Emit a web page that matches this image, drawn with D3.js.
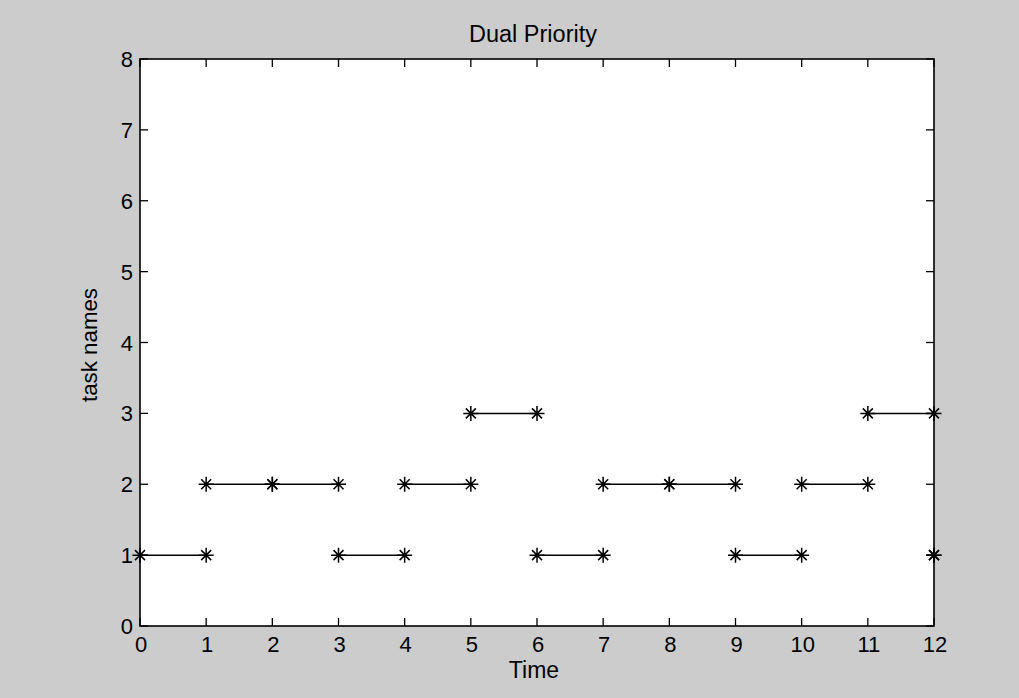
<!DOCTYPE html>
<html><head><meta charset="utf-8">
<script src="https://cdn.jsdelivr.net/npm/d3@7"></script>
<style>body{margin:0;background:#cccccc;}svg{display:block;}</style>
</head><body>
<script>
const title = "Dual Priority";
const xLabel = "Time";
const yLabel = "task names";
// schedule: unit-time execution segments
const segStart = [0, 1, 2, 3, 4, 5, 6, 7, 8, 9, 10, 11, 12];
const segEnd   = [1, 2, 3, 4, 5, 6, 7, 8, 9, 10, 11, 12, 12];
const segTask  = [1, 2, 2, 1, 2, 3, 1, 2, 2, 1, 2, 3, 1];
const xTicks = [0,1,2,3,4,5,6,7,8,9,10,11,12];
const yTicks = [0,1,2,3,4,5,6,7,8];

const W = 1019, H = 698;
const L = 140, R = 934, T = 59, B = 626;
const svg = d3.select("body").append("svg").attr("width", W).attr("height", H);
svg.append("rect").attr("width", W).attr("height", H).attr("fill", "#cccccc");
svg.append("rect").attr("x", L).attr("y", T).attr("width", R-L).attr("height", B-T).attr("fill", "#fff");

const x = d3.scaleLinear().domain([0,12]).range([L,R]);
const y = d3.scaleLinear().domain([0,8]).range([B,T]);
const font = "Liberation Sans, Arial, sans-serif";
const tl = 8;

const g = svg.append("g").attr("stroke", "#000").attr("stroke-width", 1.3).attr("fill","none");
xTicks.forEach(v => {
  g.append("line").attr("x1", x(v)).attr("x2", x(v)).attr("y1", B).attr("y2", B - tl);
  g.append("line").attr("x1", x(v)).attr("x2", x(v)).attr("y1", T).attr("y2", T + tl);
});
yTicks.forEach(v => {
  g.append("line").attr("x1", L).attr("x2", L + tl).attr("y1", y(v)).attr("y2", y(v));
  g.append("line").attr("x1", R).attr("x2", R - tl).attr("y1", y(v)).attr("y2", y(v));
});
g.append("rect").attr("x", L).attr("y", T).attr("width", R-L).attr("height", B-T).attr("stroke-width", 1.6);

svg.append("g").selectAll("text").data(xTicks).join("text")
  .attr("x", d => x(d) + 1).attr("y", 652).attr("text-anchor","middle")
  .attr("font-family", font).attr("font-size", 22).attr("fill","#000").text(d => d);
svg.append("g").selectAll("text").data(yTicks).join("text")
  .attr("x", 133).attr("y", d => y(d) + 8).attr("text-anchor","end")
  .attr("font-family", font).attr("font-size", 22).attr("fill","#000").text(d => d);

svg.append("text").attr("x", (L+R)/2 - 4).attr("y", 42).attr("text-anchor","middle")
  .attr("font-family", font).attr("font-size", 23.5).text(title);
svg.append("text").attr("x", 534).attr("y", 678).attr("text-anchor","middle")
  .attr("font-family", font).attr("font-size", 23).text(xLabel);
svg.append("text").attr("transform", `translate(97,345) rotate(-90)`).attr("text-anchor","middle")
  .attr("font-family", font).attr("font-size", 22.3).text(yLabel);

const data = segStart.map((s,i) => ({s, e: segEnd[i], t: segTask[i]}));
const dg = svg.append("g");
dg.selectAll("line").data(data).join("line")
  .attr("x1", d => x(d.s)).attr("x2", d => x(d.e))
  .attr("y1", d => y(d.t)).attr("y2", d => y(d.t))
  .attr("stroke", "#000").attr("stroke-width", 1.5);
const pts = [];
data.forEach(d => { pts.push([d.s, d.t]); pts.push([d.e, d.t]); });
const r = 7.5, rd = 5;
const star = `M${-r},0L${r},0M0,${-r}L0,${r}M${-rd},${-rd}L${rd},${rd}M${-rd},${rd}L${rd},${-rd}`;
dg.selectAll("path").data(pts).join("path")
  .attr("transform", d => `translate(${x(d[0])},${y(d[1])})`)
  .attr("d", star).attr("stroke", "#000").attr("stroke-width", 1.5).attr("fill","none");
</script>
</body></html>
